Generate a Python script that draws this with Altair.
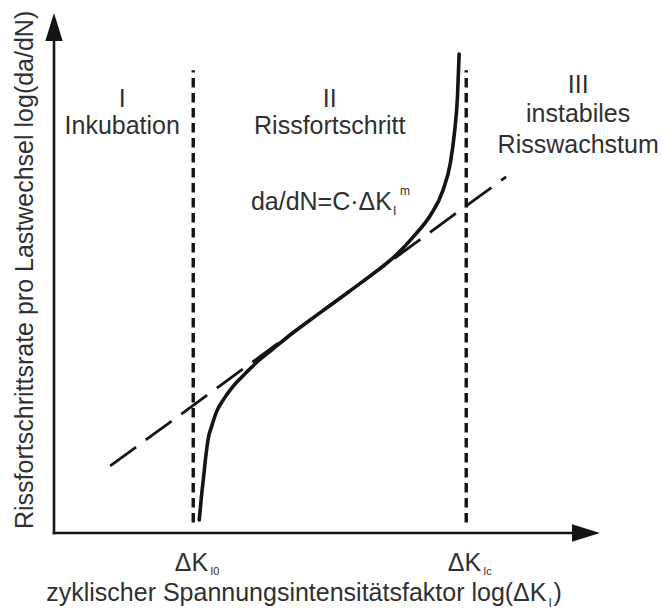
import altair as alt
import pandas as pd

# Schematic fatigue crack growth diagram, log(da/dN) over log(ΔK_I), arbitrary log units
curve_x = [2.66, 2.70, 2.74, 2.78, 2.82, 2.89, 2.98, 3.10, 3.25, 3.44, 3.70, 4.00,
           4.40, 4.80, 5.40, 5.90, 6.25, 6.60, 6.90, 7.12, 7.26, 7.34, 7.39, 7.42]
curve_y = [0.25, 0.70, 1.08, 1.47, 1.79, 2.06, 2.34, 2.56, 2.78, 3.00, 3.27, 3.53,
           3.87, 4.18, 4.64, 5.03, 5.33, 5.72, 6.12, 6.58, 7.12, 7.75, 8.40, 9.21]

# Paris law da/dN = C·ΔK^m as a straight line in log-log
paris_x = [1.03, 8.28]
paris_y = [1.29, 6.85]

# threshold ΔK_I0 and critical ΔK_Ic
bound_x = [2.55, 7.55]
bound_sub = ["I0", "Ic"]
bound_lo, bound_hi = 0.2, 8.9

# axis extent (arrow tips)
x_max, y_max = 10.0, 10.0

# region captions
region_text = ["I", "Inkubation", "II", "Rissfortschritt", "III", "instabiles", "Risswachstum"]
region_x = [1.25, 1.25, 5.05, 5.05, 9.60, 9.60, 9.60]
region_y = [8.19, 7.67, 8.19, 7.67, 8.46, 7.90, 7.31]

# label anchors
formula_pos = (6.19, 6.22)
tick_label_y = -0.74
xtitle_pos = (9.02, -1.31)
ytitle_pos = (-0.385, 5.06)

INK = "#141414"
TXT = "#303030"
FONT = "Liberation Sans"
FS = 25
FS_SMALL = 12

W, H = 546, 520
xs = alt.Scale(domain=[0, x_max], nice=False, zero=False)
ys = alt.Scale(domain=[0, y_max], nice=False, zero=False)


def X(field="x"):
    return alt.X(f"{field}:Q", scale=xs, axis=None)


def Y(field="y"):
    return alt.Y(f"{field}:Q", scale=ys, axis=None)


def text_layer(df, **kw):
    base = dict(font=FONT, fontSize=FS, color=TXT, baseline="alphabetic", align="center")
    base.update(kw)
    return alt.Chart(df).mark_text(**base).encode(x=X(), y=Y(), text="t:N")


# axes with arrow heads
axes_df = pd.DataFrame({"x": [0, 0], "y": [0, 0],
                        "x2": [0, x_max - 0.3], "y2": [y_max - 0.3, 0]})
axes = alt.Chart(axes_df).mark_rule(color=INK, strokeWidth=2.6, strokeCap="square").encode(
    x=X(), y=Y(), x2="x2:Q", y2="y2:Q")

UP = "M0,0 L0.62,2 L-0.62,2 Z"
RIGHT = "M0,0 L-2,-0.62 L-2,0.62 Z"
head_up = alt.Chart(pd.DataFrame({"x": [0.0], "y": [y_max]})).mark_point(
    shape=UP, size=784, filled=True, color=INK, opacity=1, strokeWidth=0).encode(x=X(), y=Y())
head_right = alt.Chart(pd.DataFrame({"x": [x_max], "y": [0.0]})).mark_point(
    shape=RIGHT, size=784, filled=True, color=INK, opacity=1, strokeWidth=0).encode(x=X(), y=Y())

# dotted region boundaries
bounds_df = pd.DataFrame({"x": bound_x, "y": [bound_lo] * 2, "y2": [bound_hi] * 2})
bounds = alt.Chart(bounds_df).mark_rule(color=INK, strokeWidth=3.4, strokeDash=[9.5, 5.5]).encode(
    x=X(), y=Y(), y2="y2:Q")

# dashed Paris line
paris = alt.Chart(pd.DataFrame({"x": paris_x, "y": paris_y})).mark_line(
    color=INK, strokeWidth=2.8, strokeDash=[32, 12]).encode(x=X(), y=Y())

# crack growth curve
curve = alt.Chart(pd.DataFrame({"x": curve_x, "y": curve_y})).mark_line(
    color=INK, strokeWidth=3.6, strokeCap="round", interpolate="monotone").encode(
    x=X(), y=Y(), order=alt.Order("x:Q"))

regions = text_layer(pd.DataFrame({"t": region_text, "x": region_x, "y": region_y}))

fx, fy = formula_pos
formula = text_layer(pd.DataFrame({"t": ["da/dN=C·ΔK"], "x": [fx], "y": [fy]}), align="right")
formula_sub = text_layer(pd.DataFrame({"t": ["I"], "x": [fx], "y": [fy]}),
                         align="left", fontSize=FS_SMALL, dx=1, dy=5)
formula_sup = text_layer(pd.DataFrame({"t": ["m"], "x": [fx], "y": [fy]}),
                         align="left", fontSize=FS_SMALL, dx=8, dy=-15)

ticks_main = text_layer(pd.DataFrame({"t": ["ΔK", "ΔK"], "x": bound_x,
                                      "y": [tick_label_y] * 2}), align="right", dx=15)
ticks_sub = text_layer(pd.DataFrame({"t": bound_sub, "x": bound_x,
                                     "y": [tick_label_y] * 2}),
                       align="left", fontSize=11, dx=17, dy=4)

tx, ty = xtitle_pos
xtitle = text_layer(pd.DataFrame({"t": ["zyklischer Spannungsintensitätsfaktor log(ΔK"],
                                  "x": [tx], "y": [ty]}), align="right")
xtitle_sub = text_layer(pd.DataFrame({"t": ["I"], "x": [tx], "y": [ty]}),
                        align="left", fontSize=FS_SMALL, dx=2, dy=6)
xtitle_end = text_layer(pd.DataFrame({"t": [")"], "x": [tx], "y": [ty]}), align="left", dx=7)

yx, yy = ytitle_pos
ytitle = text_layer(pd.DataFrame({"t": ["Rissfortschrittsrate pro Lastwechsel log(da/dN)"],
                                  "x": [yx], "y": [yy]}), angle=270)

chart = alt.layer(
    bounds, paris, curve, axes, head_up, head_right,
    regions, formula, formula_sub, formula_sup,
    ticks_main, ticks_sub, xtitle, xtitle_sub, xtitle_end, ytitle,
).properties(
    width=W, height=H,
    autosize=alt.AutoSizeParams(type="none"),
    padding={"left": 54, "top": 13, "right": 63, "bottom": 79},
    background="white",
).configure_view(stroke=None)

chart.save("out.html", embed_options={"renderer": "svg", "actions": False})
